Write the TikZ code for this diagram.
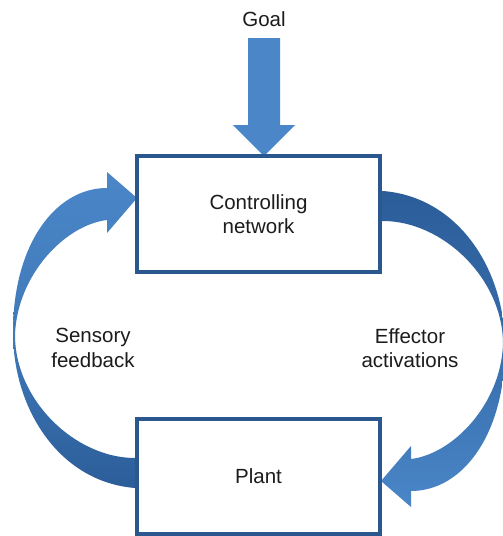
\documentclass[tikz,border=0pt]{standalone}
\usepackage{fontspec}
\setmainfont{Liberation Sans}
\definecolor{lightblue}{RGB}{74,134,200}
\definecolor{darkblue}{RGB}{43,93,153}
\definecolor{boxblue}{RGB}{42,88,142}
\definecolor{txt}{RGB}{28,28,28}
\begin{document}
\begin{tikzpicture}[x=1pt,y=-1pt,
  blockbox/.style={draw=boxblue, line width=4pt, fill=white, minimum width=243pt,
    inner sep=0pt, align=center, text=txt, font=\fontsize{20.5}{24.5}\selectfont},
  lbl/.style={align=center, inner sep=0pt, text=txt, font=\fontsize{20.5}{24.5}\selectfont}]
\useasboundingbox (0,0) rectangle (503,536);
\clip (0,0) rectangle (503,536);
\fill[white] (0,0) rectangle (503,536);

% Sensory feedback arrow (left)
\shade[top color=lightblue, bottom color=darkblue, middle color=lightblue!70!darkblue]
  (142,458) -- (135,458)
  .. controls (75,458) and (15,400) .. (15,335)
  .. controls (17,275) and (65,225) .. (107,220)
  -- (107,233) -- (137,198) -- (107,172) -- (107,188)
  .. controls (55,188) and (13,245) .. (13,332)
  .. controls (13,410) and (60,482) .. (135,488)
  -- (142,488) -- cycle;

% Effector activations arrow (right)
\shade[top color=darkblue, bottom color=lightblue, middle color=darkblue!60!lightblue]
  (376,221) -- (383,221)
  .. controls (443,221) and (503,279) .. (503,344)
  .. controls (501,404) and (453,454) .. (411,459)
  -- (411,446) -- (381,481) -- (411,507) -- (411,491)
  .. controls (463,491) and (505,434) .. (505,347)
  .. controls (505,269) and (458,197) .. (383,191)
  -- (376,191) -- cycle;

% Goal arrow
\fill[lightblue] (248,38) -- (280,38) -- (280,125) -- (295,125) -- (264,156)
  -- (233,125) -- (248,125) -- cycle;

\node[blockbox, minimum height=116pt] (ctrl) at (258.5,214) {Controlling\\network};
\node[blockbox, minimum height=115pt] (plant) at (258.5,476.5) {Plant};

\node[lbl, anchor=base] (goal) at (264,26) {Goal};
\node[lbl] (sens) at (93,348) {Sensory\\feedback};
\node[lbl] (eff) at (410,348) {Effector\\activations};
\end{tikzpicture}
\end{document}
